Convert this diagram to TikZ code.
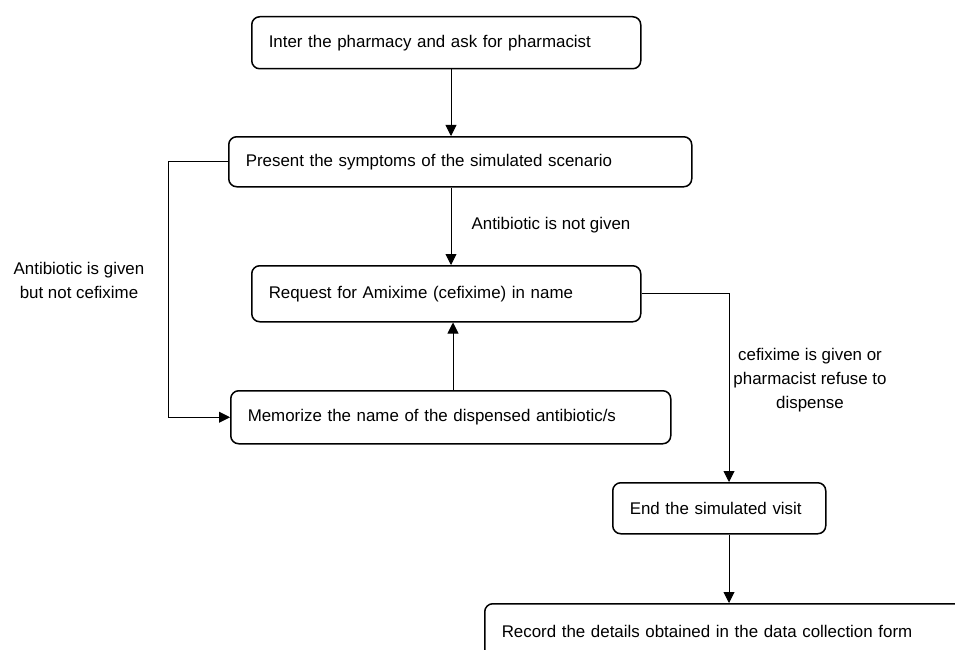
\documentclass[tikz,border=0pt]{standalone}
\usepackage{fontspec}
\setmainfont{Liberation Sans}
\usetikzlibrary{arrows.meta,calc}
\begin{document}
\begin{tikzpicture}[x=1pt,y=-1pt,
  every node/.style={font=\fontsize{16.9}{24}\selectfont},
  box/.style={draw, line width=1.5pt, rounded corners=8pt, anchor=north west, align=left, inner xsep=17pt, inner ysep=0pt},
  lbl/.style={align=center, inner sep=0pt},
  arr/.style={-{Triangle[length=11pt,width=11pt]}, line width=0.9pt},
  ln/.style={line width=0.9pt}]
\useasboundingbox (0,0) rectangle (955,650);
\clip (0,0) rectangle (955,650);
\node[box, text width=355pt, minimum height=52pt] (b1) at (251,16) {Inter the pharmacy and ask for pharmacist};
\node[box, text width=429pt, minimum height=50pt] (b2) at (228,136) {Present the symptoms of the simulated scenario};
\node[box, text width=355pt, minimum height=56pt] (b3) at (251,265) {Request for Amixime (cefixime) in name};
\node[box, text width=406pt, minimum height=53pt] (b4) at (230,390) {Memorize the name of the dispensed antibiotic/s};
\node[box, text width=179pt, minimum height=51pt] (b5) at (612,482) {End the simulated visit};
\node[box, text width=500pt, minimum height=55pt] (b6) at (484,603) {Record the details obtained in the data collection form};
\coordinate (xa) at (451,0);
\coordinate (xb) at (453,0);
\coordinate (xl) at (168,0);
\coordinate (xr) at (729,0);
\draw[arr] (b1.south -| xa) -- (b2.north -| xa);
\draw[arr] (b2.south -| xa) -- (b3.north -| xa);
\draw[arr] (b4.north -| xb) -- (b3.south -| xb);
\draw[arr] (b2.west) -- (b2.west -| xl) -- (b4.west -| xl) -- (b4.west);
\draw[arr] (b3.east) -- (b3.east -| xr) -- (b5.north -| xr);
\draw[arr] (b5.south -| xr) -- (b6.north -| xr);
\node[lbl] (l1) at (551,225) {Antibiotic is not given};
\node[lbl] (l2) at (79,280) {Antibiotic is given\\but not cefixime};
\node[lbl] (l3) at (810,380) {cefixime is given or\\pharmacist refuse to\\dispense};
\end{tikzpicture}
\end{document}
